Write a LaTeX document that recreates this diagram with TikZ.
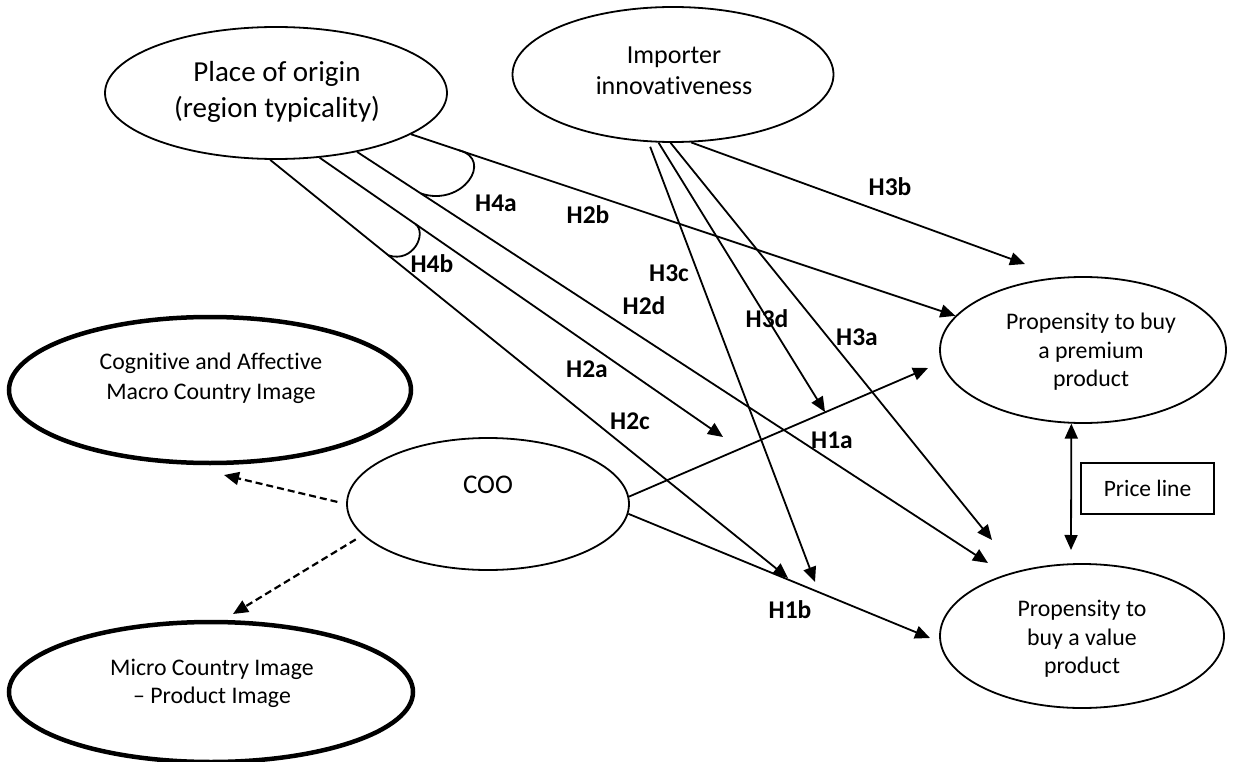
\documentclass[tikz,border=0pt]{standalone}
\usepackage{fontspec}
\setmainfont{Carlito}[Ligatures=NoCommon]
\usetikzlibrary{arrows.meta,shapes.geometric}
\begin{document}
\begin{tikzpicture}[x=1pt,y=-1pt,
  ell/.style={draw, ellipse, line width=1.8pt, inner sep=0pt},
  thickell/.style={draw, ellipse, line width=4.5pt, inner sep=0pt},
  arr/.style={line width=1.8pt, -{Triangle[length=15pt,width=13pt]}},
  dbl/.style={line width=1.8pt, {Triangle[length=15pt,width=13pt]}-{Triangle[length=15pt,width=13pt]}},
  plainln/.style={line width=1.8pt},
  darr/.style={line width=2.2pt, dash pattern=on 7pt off 4pt, -{Triangle[length=15pt,width=13pt]}},
  hl/.style={font=\fontsize{25.5}{30}\selectfont\bfseries, inner sep=0pt},
  txt/.style={align=center, inner sep=0pt}
]
\useasboundingbox (0,0) rectangle (1239,762);

% ellipses
\node[ell, minimum width=342pt, minimum height=132pt] (poo) at (276,93) {};
\node[ell, minimum width=321pt, minimum height=135pt] (imp) at (673,74.5) {};
\node[ell, minimum width=286pt, minimum height=146pt] (prem) at (1083,350) {};
\node[ell, minimum width=284pt, minimum height=144pt] (val) at (1082,636) {};
\node[ell, minimum width=282pt, minimum height=132pt] (coo) at (488,504) {};
\node[thickell, minimum width=402pt, minimum height=146pt] (cog) at (210,390) {};
\node[thickell, minimum width=404pt, minimum height=140pt] (mic) at (211,692) {};

% texts
\node[txt, font=\fontsize{29}{36}\selectfont] (tpoo) at (277,92) {Place of origin\\(region typicality)};
\node[txt, font=\fontsize{26}{31}\selectfont] (timp) at (674,71) {Importer\\innovativeness};
\node[txt, font=\fontsize{23.8}{28.5}\selectfont] (tprem) at (1091,352) {Propensity to buy\\a premium\\product};
\node[txt, font=\fontsize{23.8}{28.5}\selectfont] (tval) at (1082,639) {Propensity to\\buy a value\\product};
\node[txt, font=\fontsize{27}{32}\selectfont] (tcoo) at (488,485) {COO};
\node[txt, font=\fontsize{23.8}{30}\selectfont] (tcog) at (211,378) {Cognitive and Affective\\Macro Country Image};
\node[txt, font=\fontsize{23.8}{28}\selectfont] (tmic) at (212,683) {Micro Country Image\\– Product Image};
\node[draw, line width=1.3pt, minimum width=133pt, minimum height=51pt, inner sep=0pt,
      font=\fontsize{23.5}{28}\selectfont] (pl) at (1147.5,488.5) {Price line};

% free ends
\coordinate (eH2d) at (988,563);
\coordinate (eH2a) at (723,437);
\coordinate (eH2c) at (788,578);
\coordinate (eH3c) at (815,582);
\coordinate (eH3d) at (825,412);
\coordinate (eH3a) at (992,540);
\coordinate (eH3b) at (1025,264);
\coordinate (eH1a) at (928,368);
\coordinate (eH1b) at (930,638);
\coordinate (eCog) at (224,475);
\coordinate (eMic) at (233,614);
\coordinate (ePl) at (1071,550);

% place of origin paths
\draw[arr] (poo.-17.4) -- (prem.165) coordinate[pos=0.088] (a1);
\draw[arr] (poo.-36) -- (eH2d) coordinate[pos=0.101] (a2);
\draw[arr] (poo.-56) -- (eH2a) coordinate[pos=0.2374] (b3);
\draw[arr] (poo.-95.5) -- (eH2c) coordinate[pos=0.2284] (b4);

% moderator arcs
\draw[plainln] (a2) .. controls +(42,14) and +(35,9) .. (a1);
\draw[plainln] (b4) .. controls +(25,8) and +(12,9) .. (b3);

% importer paths
\draw[arr, shorten <=5pt] (imp.-110.5) -- (eH3c);
\draw[arr] (imp.-102.6) -- (eH3d);
\draw[arr] (imp.-92.6) -- (eH3a);
\draw[arr] (imp.-75.8) -- (eH3b);

% COO paths
\draw[arr] (coo.3) -- (eH1a);
\draw[arr] (coo.-4) -- (eH1b);
\draw[darr, shorten <=9pt] (coo.180) -- (eCog);
\draw[darr, shorten <=8pt] (coo.-166) -- (eMic);

% price line
\draw[dbl] (prem.-99) -- (ePl);

% labels
\node[hl] (lH4a) at (496,203) {H4a};
\node[hl] (lH4b) at (432,264) {H4b};
\node[hl] (lH2b) at (588,215) {H2b};
\node[hl] (lH3b) at (890,187) {H3b};
\node[hl] (lH3c) at (669,273) {H3c};
\node[hl] (lH2d) at (644,306) {H2d};
\node[hl] (lH3d) at (767,319) {H3d};
\node[hl] (lH3a) at (857,337) {H3a};
\node[hl] (lH2a) at (587,369) {H2a};
\node[hl] (lH2c) at (630,421) {H2c};
\node[hl] (lH1a) at (832,440) {H1a};
\node[hl] (lH1b) at (790,610) {H1b};
\end{tikzpicture}
\end{document}
